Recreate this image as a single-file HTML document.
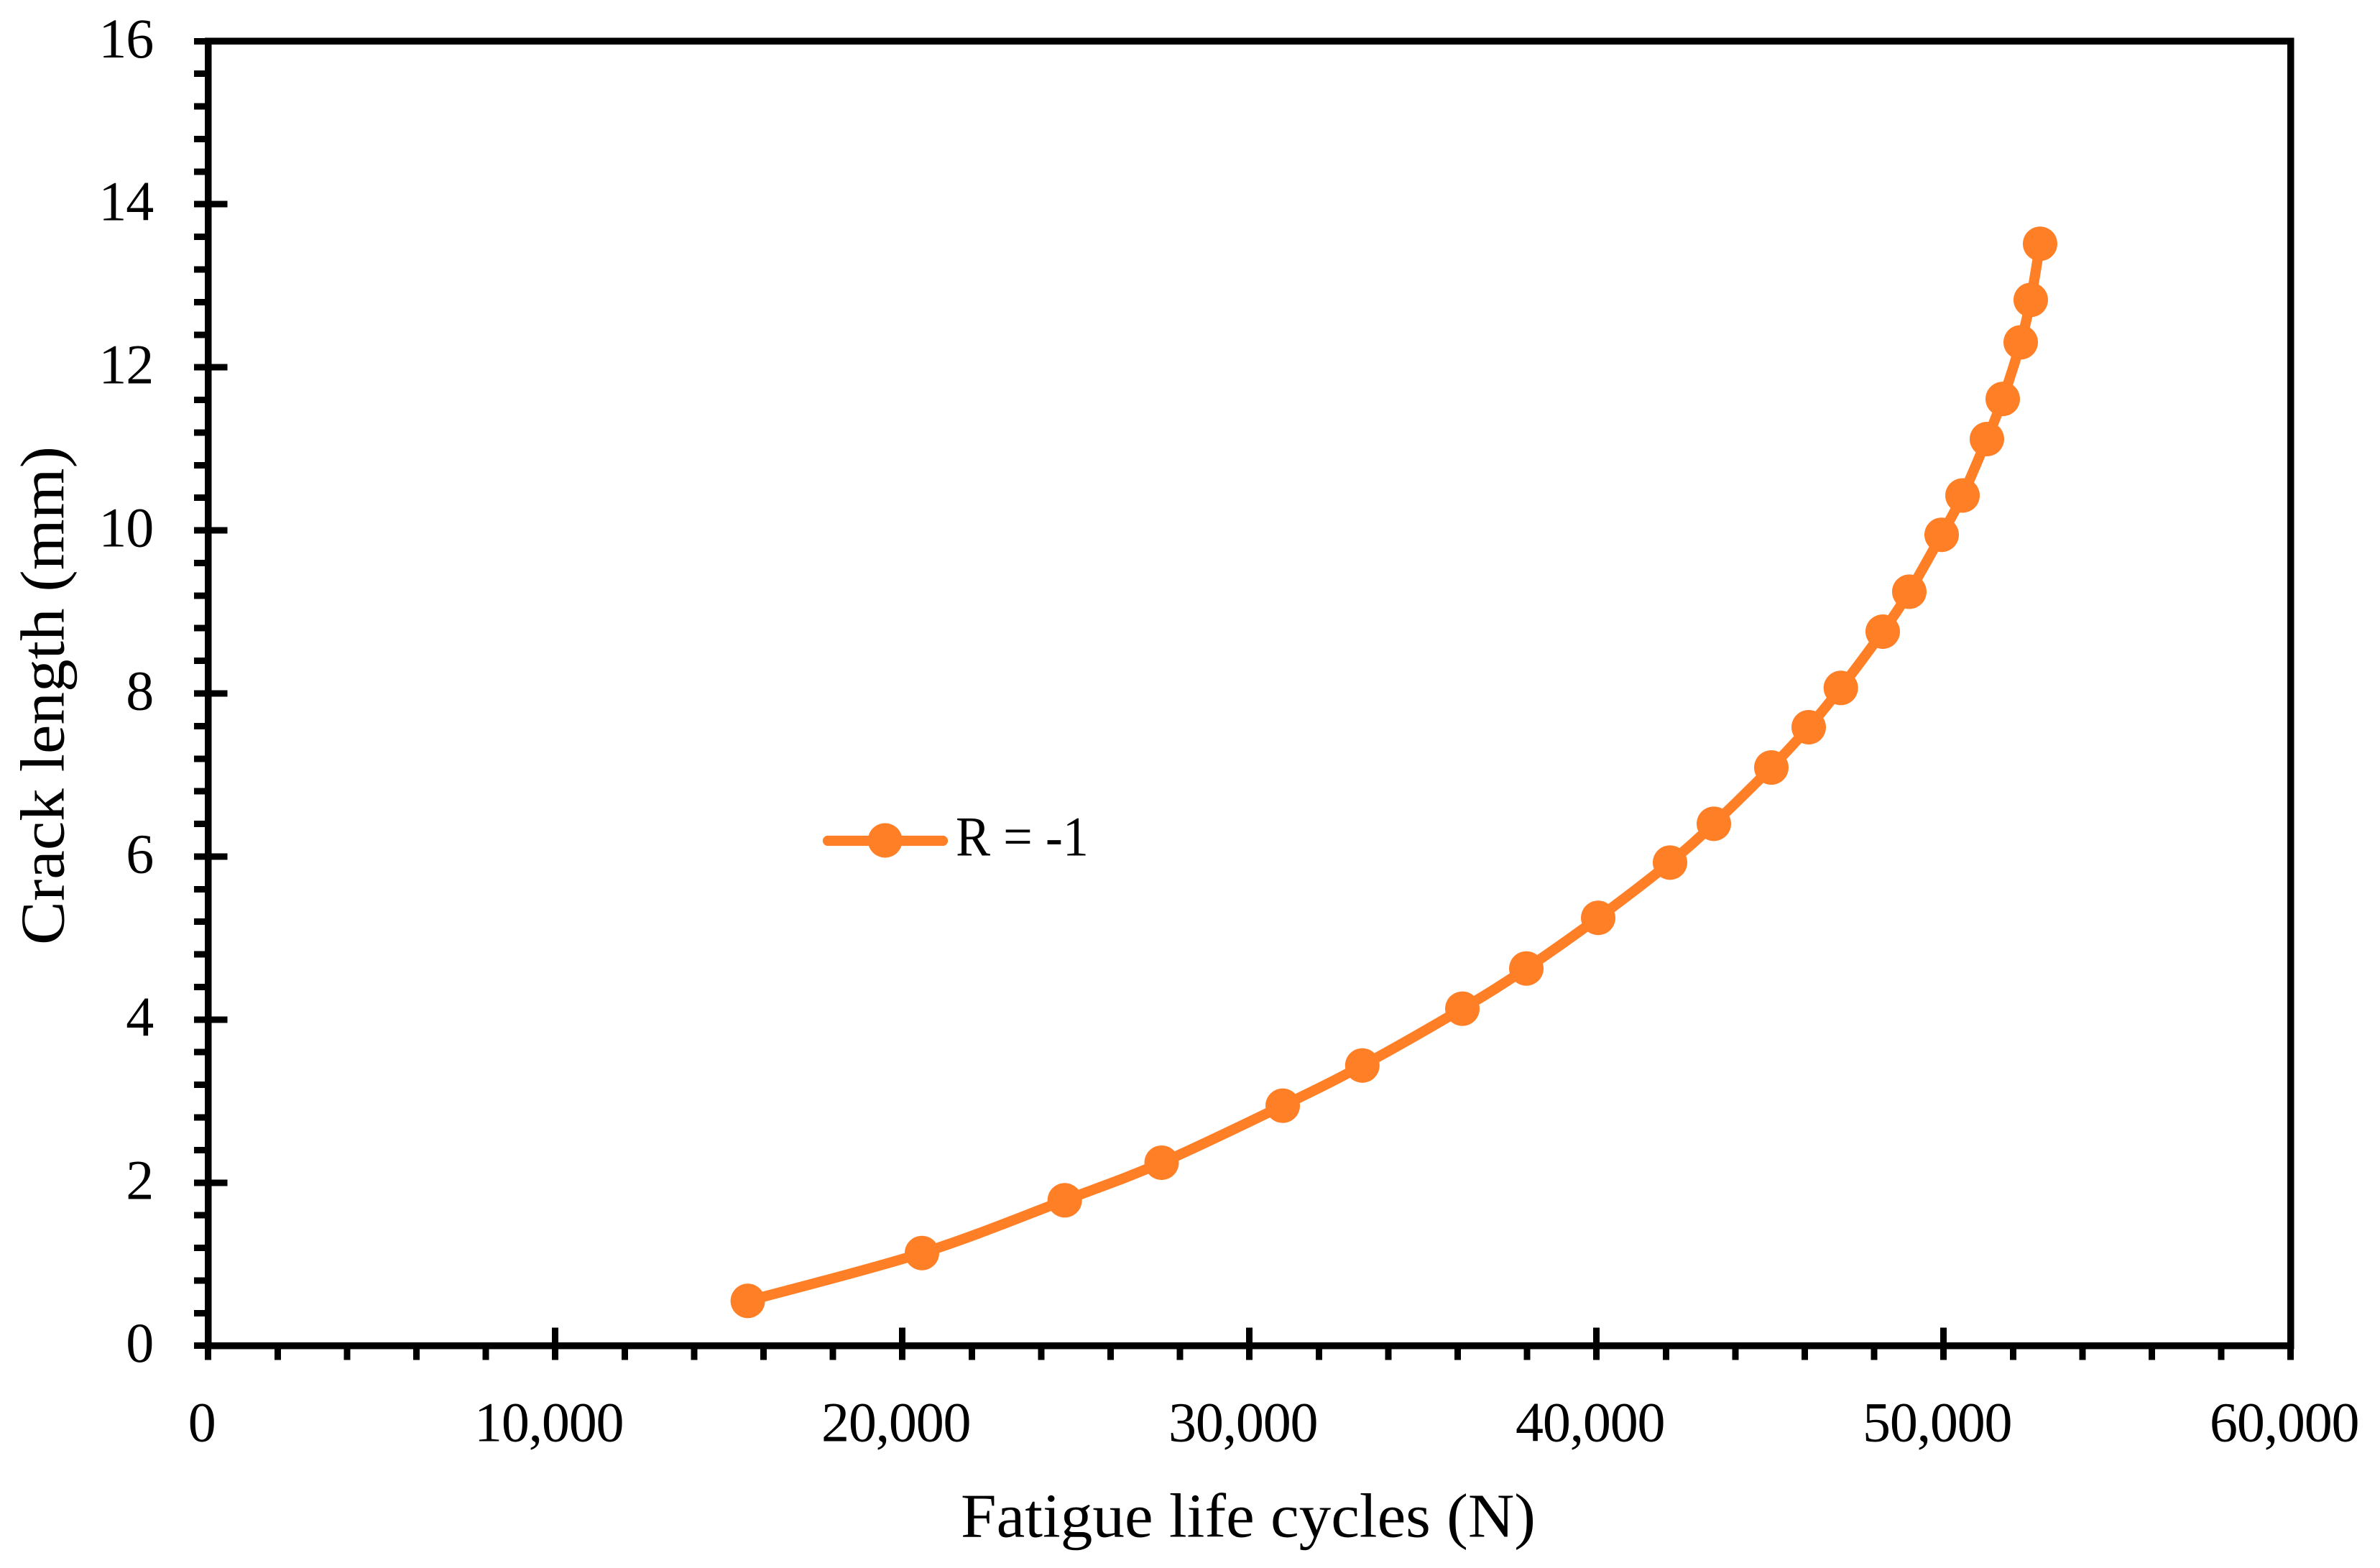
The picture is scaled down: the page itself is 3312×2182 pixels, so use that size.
<!DOCTYPE html>
<html lang="en">
<head>
<meta charset="utf-8">
<title>Crack length vs fatigue life cycles</title>
<style>
html,body{margin:0;padding:0;background:#fff;width:3312px;height:2182px;overflow:hidden}
svg{display:block}
text{font-family:"Liberation Serif",serif;fill:#000}
</style>
</head>
<body>
<svg id="chart" xmlns="http://www.w3.org/2000/svg" width="3312" height="2182" viewBox="0 0 3312 2182">
  <rect width="3312" height="2182" fill="#fff"/>
  <g id="axes"></g>
  <g id="series"></g>
  <g id="legend">
    <g>
      <line x1="1152" y1="1170" x2="1312" y2="1170" stroke="#FF7F27" stroke-width="14.3" stroke-linecap="round"/>
      <circle cx="1231.7" cy="1169.5" r="24" fill="#FF7F27"/>
      <text x="1330" y="1190.7" font-size="78" textLength="185" lengthAdjust="spacingAndGlyphs">R = -1</text>
    </g>
  </g>
  <text x="1337" y="2138.7" font-size="87" textLength="800" lengthAdjust="spacingAndGlyphs">Fatigue life cycles (N)</text>
  <text transform="translate(88.5 1315) rotate(-90)" x="0" y="0" font-size="87" textLength="694" lengthAdjust="spacingAndGlyphs">Crack length (mm)</text>
</svg>
<script>
var fatigueCycles = [15547,20565,24679,27470,30959,33253,36135,37978,40048,42118,43381,45037,46114,47039,48246,49012,49944,50545,51248,51704,52222,52511,52780];
var crackLength = [0.55,1.137,1.784,2.245,2.944,3.437,4.134,4.627,5.248,5.926,6.402,7.092,7.586,8.068,8.758,9.248,9.946,10.428,11.12,11.612,12.307,12.827,13.515];
var xTickLabels = ["0","10,000","20,000","30,000","40,000","50,000","60,000"];
var xTickValues = [0,10000,20000,30000,40000,50000,60000];
var yTickLabels = ["0","2","4","6","8","10","12","14","16"];
var yTickValues = [0,2,4,6,8,10,12,14,16];
var xMax = 60000;
var yMax = 16;
var xMinorStep = 2000;
var yMinorStep = 0.4;

var NS = 'http://www.w3.org/2000/svg';
var plotLeft = 289.7, plotRight = 3187.7, plotTop = 57.3, plotBottom = 1872.7;
function xScale(v){ return plotLeft + (v / xMax) * (plotRight - plotLeft); }
function yScale(v){ return plotBottom - (v / yMax) * (plotBottom - plotTop); }
function make(tag, attrs, parent){
  var el = document.createElementNS(NS, tag);
  for (var k in attrs) { el.setAttribute(k, attrs[k]); }
  parent.appendChild(el);
  return el;
}
var axes = document.getElementById('axes');
var series = document.getElementById('series');

var frame = make('rect', {x: plotLeft, y: plotTop, width: plotRight - plotLeft, height: plotBottom - plotTop, fill: 'none', stroke: '#000', 'stroke-width': 9.4, 'shape-rendering': 'crispEdges'}, axes);



var i, tick, label, v;
var xMinorCount = Math.round(xMax / xMinorStep);
for (i = 0; i <= xMinorCount; i++) {
  v = i * xMinorStep;
  tick = make('line', {x1: xScale(v), x2: xScale(v), y1: plotBottom, y2: 1892.7, stroke: '#000', 'stroke-width': 9, 'shape-rendering': 'crispEdges'}, axes);
  
  
}
var yMinorCount = Math.round(yMax / yMinorStep);
for (i = 0; i <= yMinorCount; i++) {
  v = i * yMinorStep;
  tick = make('line', {x1: 270, x2: plotLeft, y1: yScale(v), y2: yScale(v), stroke: '#000', 'stroke-width': 9, 'shape-rendering': 'crispEdges'}, axes);
  
  
}
for (i = 0; i < xTickValues.length; i++) {
  v = xTickValues[i];
  tick = make('line', {x1: xScale(v), x2: xScale(v), y1: 1847.3, y2: 1892.7, stroke: '#000', 'stroke-width': 9, 'shape-rendering': 'crispEdges'}, axes);
  
  
  label = make('text', {x: xScale(v) - 9, y: 2005.3, 'font-size': 78, 'text-anchor': 'middle', 'letter-spacing': '-1.2'}, axes);
  label.textContent = xTickLabels[i];
  
  
}
for (i = 0; i < yTickValues.length; i++) {
  v = yTickValues[i];
  tick = make('line', {x1: 270, x2: 316.7, y1: yScale(v), y2: yScale(v), stroke: '#000', 'stroke-width': 9, 'shape-rendering': 'crispEdges'}, axes);
  
  
  label = make('text', {x: 213, y: yScale(v) + 22.5, 'font-size': 78, 'text-anchor': 'end', 'letter-spacing': '-1.2'}, axes);
  label.textContent = yTickLabels[i];
  
  
}

var pts = [];
for (i = 0; i < fatigueCycles.length; i++) {
  pts.push([xScale(fatigueCycles[i]), yScale(crackLength[i])]);
}
var d = 'M' + pts[0][0] + ' ' + pts[0][1];
for (i = 0; i < pts.length - 1; i++) {
  var p0 = pts[Math.max(i - 1, 0)], p1 = pts[i], p2 = pts[i + 1], p3 = pts[Math.min(i + 2, pts.length - 1)];
  d += ' C' + (p1[0] + (p2[0] - p0[0]) / 6) + ' ' + (p1[1] + (p2[1] - p0[1]) / 6) + ' ' +
       (p2[0] - (p3[0] - p1[0]) / 6) + ' ' + (p2[1] - (p3[1] - p1[1]) / 6) + ' ' + p2[0] + ' ' + p2[1];
}
var curve = make('path', {d: d, fill: 'none', stroke: '#FF7F27', 'stroke-width': 14.3, 'stroke-linecap': 'round', 'stroke-linejoin': 'round'}, series);


for (i = 0; i < pts.length; i++) {
  var dot = make('circle', {cx: pts[i][0], cy: pts[i][1], r: 24, fill: '#FF7F27'}, series);
  
  
}
</script>
</body>
</html>
